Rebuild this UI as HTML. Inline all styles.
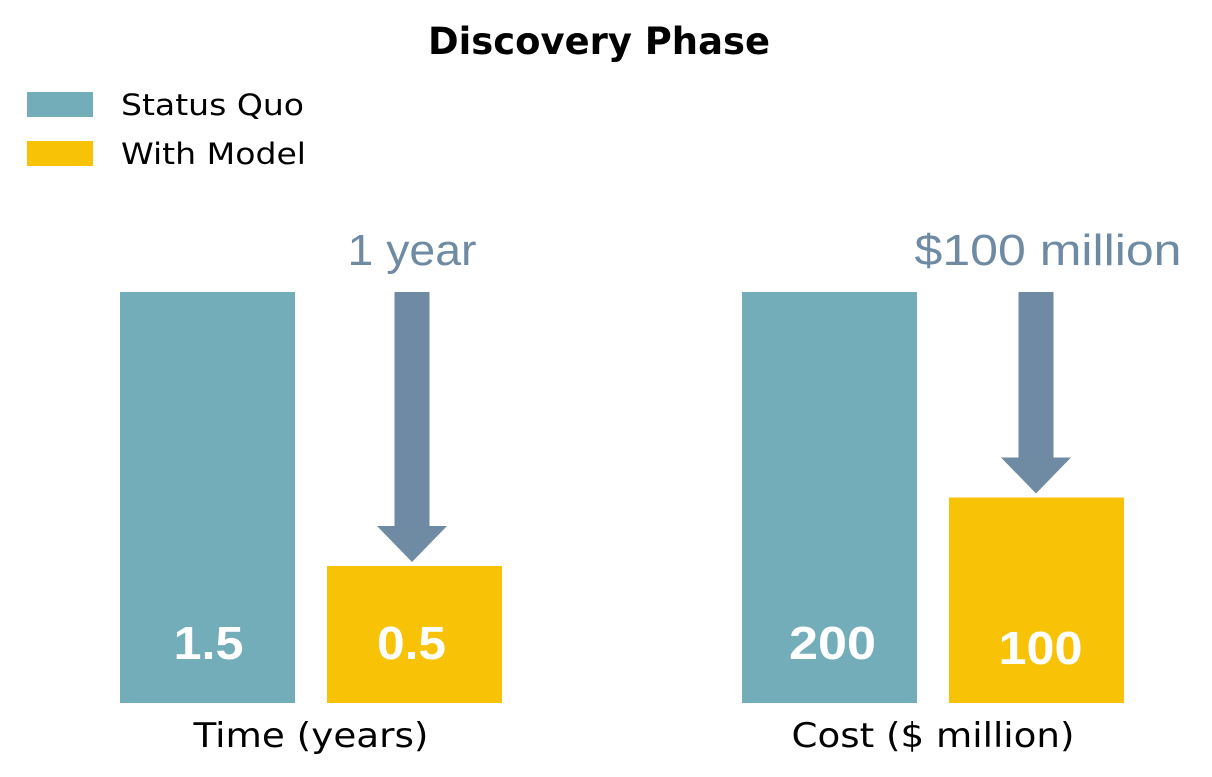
<!DOCTYPE html>
<html><head><meta charset="utf-8"><style>
html,body{margin:0;padding:0;background:#fff;}
svg{display:block;}
</style></head><body>
<svg width="1212" height="777" viewBox="0 0 1212 777" xmlns="http://www.w3.org/2000/svg">
<text x="599" y="54" text-anchor="middle" textLength="342" lengthAdjust="spacingAndGlyphs" font-family="DejaVu Sans, Liberation Sans, sans-serif" font-weight="bold" font-size="37" fill="#000">Discovery Phase</text>
<g>
<rect x="27" y="92" width="66" height="25" fill="#72adb9"/>
<text x="121" y="115" textLength="183" lengthAdjust="spacingAndGlyphs" font-family="DejaVu Sans, sans-serif" font-size="29" fill="#000">Status Quo</text>
<rect x="27" y="141" width="66" height="25" fill="#f8c207"/>
<text x="121" y="164" textLength="185" lengthAdjust="spacingAndGlyphs" font-family="DejaVu Sans, sans-serif" font-size="29" fill="#000">With Model</text>
</g>
<g id="plot"></g>
</svg>
<script>
const panels = ["Time (years)", "Cost ($ million)"];
const statusQuo = [1.5, 200];
const withModel = [0.5, 100];
const valueLabels = [["1.5","0.5"],["200","100"]];
const deltaLabels = ["1 year", "$100 million"];

const NS="http://www.w3.org/2000/svg";
const g=document.getElementById('plot');
const baseY=703, topY=292, barW=175;
const panelX=[120,742];
const axisW=[235,283], deltaW=[129,267], deltaCx=[412,1048];
function mk(t,a){const e=document.createElementNS(NS,t);for(const k in a)e.setAttribute(k,a[k]);g.appendChild(e);return e;}
function vw(s){return s.length*23+(s.indexOf('.')>=0?-1:18);}
panels.forEach((p,i)=>{
  const maxV=Math.max(statusQuo[i],withModel[i]);
  const y=v=>baseY-(v/maxV)*(baseY-topY);
  const x0=panelX[i], x1=x0+207;
  const b1=mk('rect',{x:x0,y:y(statusQuo[i]),width:barW,height:baseY-y(statusQuo[i]),fill:'#72adb9'});
  
  
  const b2=mk('rect',{x:x1,y:y(withModel[i]),width:barW,height:baseY-y(withModel[i]),fill:'#f8c207'});
  
  
  const l1=valueLabels[i][0], l2=valueLabels[i][1];
  const t1=mk('text',{x:x0+barW/2+(i==0?1:3),y:659,'text-anchor':'middle',textLength:(l1.indexOf('.')>=0?70:87),lengthAdjust:'spacingAndGlyphs','font-family':'Liberation Sans, sans-serif','font-weight':'bold','font-size':46,fill:'#fff'});
  t1.textContent=l1;
  
  
  const t2=mk('text',{x:x1+barW/2+(i==0?-3:4),y:i==0?659:664,'text-anchor':'middle',textLength:(l2.indexOf('.')>=0?69:84),lengthAdjust:'spacingAndGlyphs','font-family':'Liberation Sans, sans-serif','font-weight':'bold','font-size':46,fill:'#fff'});
  t2.textContent=l2;
  
  
  const ax=mk('text',{x:x0+(x1+barW-x0)/2,y:747,'text-anchor':'middle',textLength:axisW[i],lengthAdjust:'spacingAndGlyphs','font-family':'DejaVu Sans, sans-serif','font-size':34,fill:'#000'});
  ax.textContent=p;
  
  
  const cx=x1+barW/2-(i==0?2.5:0.5);
  const tip=y(withModel[i])-4, sh=35, hw=35, hh=36;
  const ar=mk('path',{d:`M${cx-sh/2},${topY} L${cx+sh/2},${topY} L${cx+sh/2},${tip-hh} L${cx+hw},${tip-hh} L${cx},${tip} L${cx-hw},${tip-hh} L${cx-sh/2},${tip-hh} Z`,fill:'#6f8ba3'});
  
  
  const dl=mk('text',{x:deltaCx[i],y:265,'text-anchor':'middle',textLength:deltaW[i],lengthAdjust:'spacingAndGlyphs','font-family':'Liberation Sans, sans-serif','font-size':44,fill:'#6f8ba3'});
  dl.textContent=deltaLabels[i];
  
  
});
</script>
</body></html>
